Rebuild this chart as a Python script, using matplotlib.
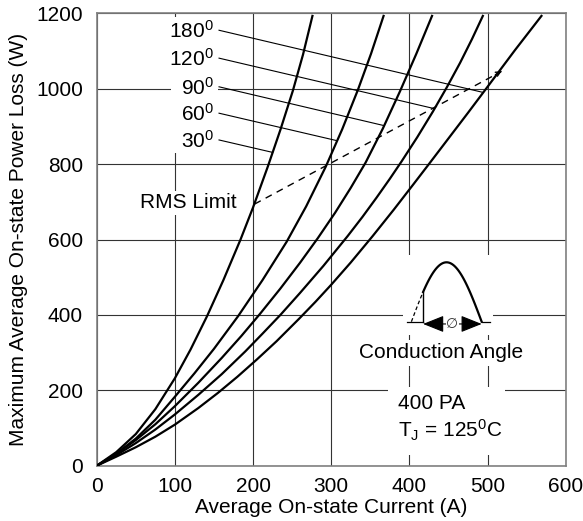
import matplotlib
matplotlib.use("Agg")

import matplotlib.pyplot as plt
import matplotlib.patches as mpatches
import numpy as np

plt.rcParams["font.family"] = ["Liberation Sans", "DejaVu Sans"]
plt.rcParams["mathtext.fontset"] = "custom"
plt.rcParams["mathtext.rm"] = "Liberation Sans"
plt.rcParams["mathtext.it"] = "Liberation Sans:italic"

# Curves: average current (A) -> power loss (W)
I_30 = [0, 25, 50, 75, 100, 120, 141, 162, 184, 200, 219, 235, 251, 264, 276]
P_30 = [0, 36, 84, 150, 232, 308, 396, 492, 600, 685, 794, 891, 995, 1091, 1193]
I_60 = [0, 25, 50, 75, 100, 125, 150, 181, 212, 243, 268, 293, 314, 334, 351, 367]
P_60 = [0, 32, 72, 122, 183, 245, 310, 397, 492, 594, 688, 793, 892, 996, 1093, 1193]
I_90 = [0, 25, 50, 75, 100, 130, 160, 185, 209, 235, 260, 283, 305, 325, 344, 366, 388, 409, 429]
P_90 = [0, 31, 68, 110, 158, 220, 286, 344, 403, 470, 538, 604, 671, 737, 804, 894, 993, 1093, 1193]
I_120 = [0, 25, 50, 75, 100, 130, 160, 190, 212, 235, 260, 290, 321, 340, 358, 375, 390, 410,
         430, 448, 465, 480, 494]
P_120 = [0, 28, 60, 96, 136, 188, 243, 303, 350, 400, 458, 530, 609, 660, 711, 761, 807, 871,
         939, 1004, 1069, 1131, 1193]
I_180 = [0, 25, 50, 75, 100, 130, 155, 180, 205, 230, 259, 280, 300, 325, 353, 380, 405, 425,
         450, 475, 500, 535, 569]
P_180 = [0, 24, 49, 77, 109, 153, 193, 236, 282, 330, 390, 435, 480, 539, 609, 679, 746, 800,
         868, 936, 1005, 1102, 1193]

# RMS limit (dashed)
RMS_I = [202, 518]
RMS_P = [694, 1046]

# Angle labels, top to bottom, with label height and where the leader hits the curve
LABELS = ["180", "120", "90", "60", "30"]
LABEL_P = [1155, 1081, 1005, 935, 864]
LEADER_P = [990, 947, 902, 862, 831]

X_TICKS = [0, 100, 200, 300, 400, 500, 600]
Y_TICKS = [0, 200, 400, 600, 800, 1000, 1200]

FS = 15

fig = plt.figure(figsize=(5.83, 5.21), dpi=100, facecolor="white")
ax = fig.add_axes([0.1659, 0.1061, 0.8044, 0.8684])
ax.set_xlim(0, 600)
ax.set_ylim(0, 1200)
ax.set_xticks(X_TICKS)
ax.set_yticks(Y_TICKS)
ax.tick_params(axis="both", length=0, labelsize=FS)
ax.tick_params(axis="x", pad=8)
ax.tick_params(axis="y", pad=10)
ax.set_axisbelow(True)
ax.grid(True, color="#333333", lw=0.8)
for sp in ax.spines.values():
    sp.set_color("#808080")
    sp.set_linewidth(1.2)

ax.set_xlabel("Average On-state Current (A)", fontsize=FS)
ax.set_ylabel("Maximum Average On-state Power Loss (W)", fontsize=FS)
ax.xaxis.set_label_coords(0.5, -0.072)
ax.yaxis.set_label_coords(-0.146, 0.5)

curves = {
    "30": (I_30, P_30),
    "60": (I_60, P_60),
    "90": (I_90, P_90),
    "120": (I_120, P_120),
    "180": (I_180, P_180),
}
for name, (xs, ys) in curves.items():
    ax.plot(xs, ys, color="black", lw=1.6, zorder=4, solid_joinstyle="round")

# RMS limit dashed line with small arrow tip
ax.plot(RMS_I, RMS_P, color="black", lw=1.0, ls=(0, (5, 4)), zorder=3)
ax.annotate("", xy=(RMS_I[1], RMS_P[1]),
            xytext=(RMS_I[1] - 8, RMS_P[1] - 9),
            arrowprops=dict(arrowstyle="->", lw=1.0, color="black",
                            mutation_scale=8, shrinkA=0, shrinkB=0),
            zorder=3)
ax.text(117, 697, "RMS Limit", fontsize=FS, ha="center", va="center",
        bbox=dict(boxstyle="square,pad=0.12", fc="white", ec="none"), zorder=2)

# white block behind the angle labels
ax.add_patch(mpatches.Rectangle((94.5, 829), 61.2, 361, fc="white", ec="none", zorder=1))
for lab, lp, ep in zip(LABELS, LABEL_P, LEADER_P):
    xs, ys = curves[lab]
    end_i = np.interp(ep, ys, xs)
    ax.text(150, lp - 21, lab + r"$^{\mathrm{0}}$", fontsize=FS, ha="right",
            va="baseline", zorder=3)
    ax.plot([156.5, end_i], [lp, ep], color="black", lw=0.8, zorder=3)

# conduction angle sketch
ax.add_patch(mpatches.Rectangle((392, 347), 115, 212, fc="white", ec="none", zorder=1))
th0, span, base, amp = 402.6, 89.9, 382, 157.5
th = np.linspace(np.pi / 6, np.pi, 80)
ax.plot(th0 + span * th / np.pi, base + amp * np.sin(th), color="black", lw=1.6, zorder=4)
th_d = np.linspace(0, np.pi / 6, 10)
ax.plot(th0 + span * th_d / np.pi, base + amp * np.sin(th_d), color="black", lw=0.9,
        ls=(0, (3, 2)), zorder=4)
x_on = th0 + span / 6
x_off = th0 + span
ax.plot([x_on, x_on], [base, base + amp * 0.5], color="black", lw=1.0, zorder=4)
ax.plot([396.5, x_on], [base, base], color="black", lw=0.9, zorder=4)
ax.plot([x_off, 503], [base, base], color="black", lw=0.9, zorder=4)
ax.annotate("", xy=(x_on, base - 6), xytext=(x_off, base - 6),
            arrowprops=dict(arrowstyle="<|-|>,head_length=1.0,head_width=0.4",
                            color="black", lw=0.8, mutation_scale=13,
                            shrinkA=0, shrinkB=0),
            zorder=4)
ax.text((x_on + x_off) / 2, base - 6, "\u2205", fontsize=10, ha="center", va="center",
        color="#333333", bbox=dict(boxstyle="square,pad=0.05", fc="white", ec="none"),
        zorder=5)
ax.text(441, 299, "Conduction Angle", fontsize=FS, ha="center", va="center",
        bbox=dict(boxstyle="square,pad=0.15", fc="white", ec="none"), zorder=2)

ax.add_patch(mpatches.Rectangle((372.6, 28), 149.7, 181, fc="white", ec="none", zorder=1))
ax.text(385, 166, "400 PA", fontsize=FS, ha="left", va="center", zorder=2)
ax.text(385, 95, r"T$_{\mathrm{J}}$ = 125$^{\mathrm{0}}$C", fontsize=FS, ha="left",
        va="center", zorder=2)

fig.savefig("out.png", dpi=100, facecolor="white")
